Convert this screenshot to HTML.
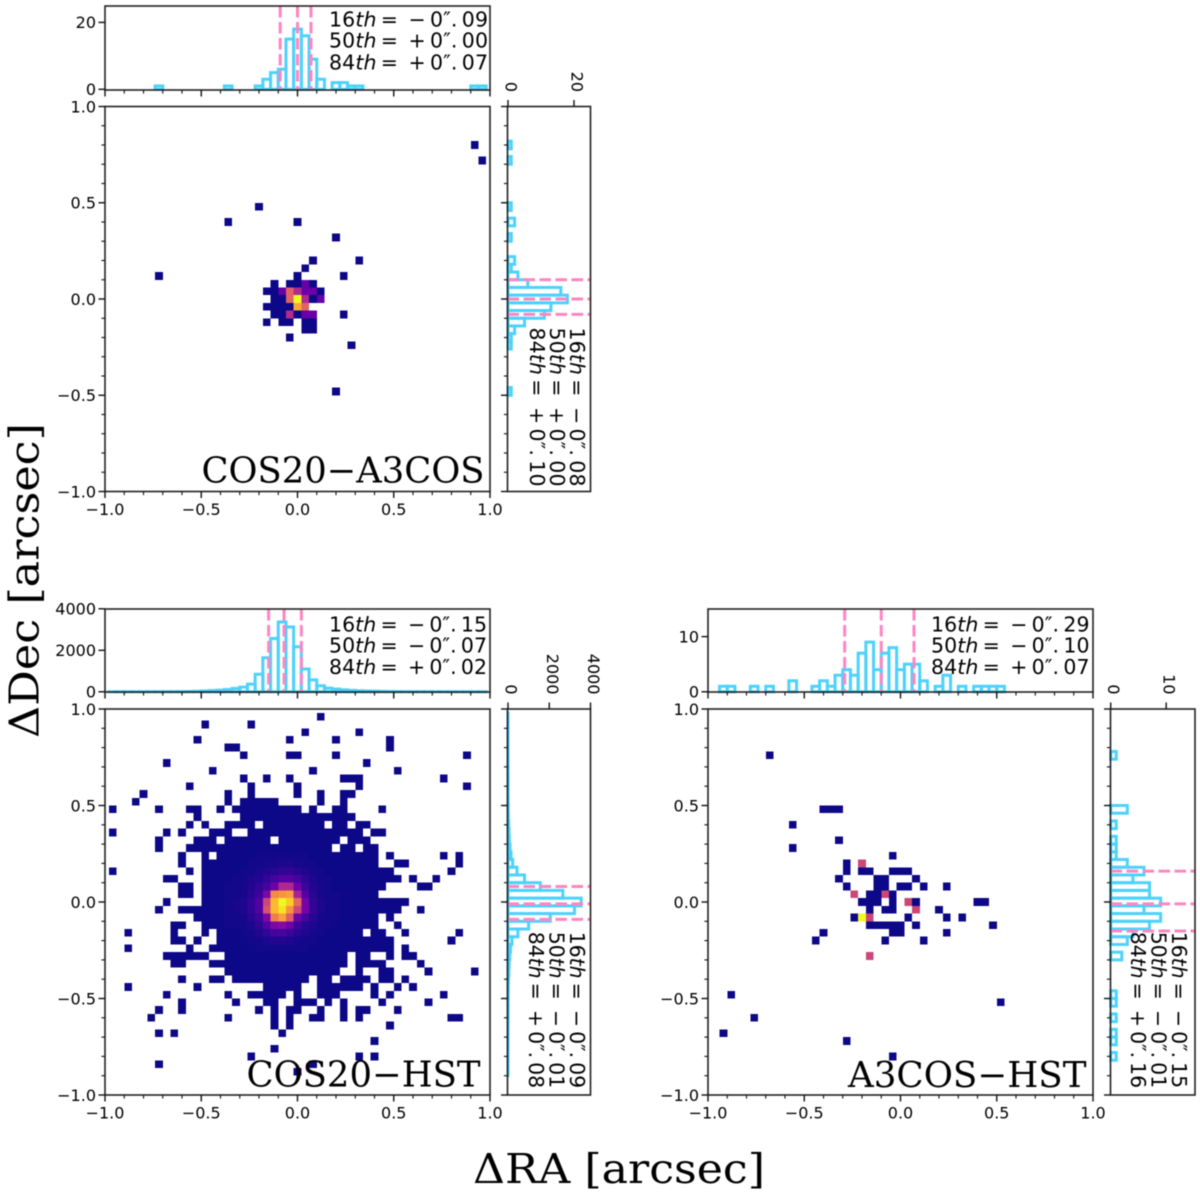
<!DOCTYPE html>
<html lang="en">
<head>
<meta charset="utf-8">
<title>Astrometric offsets between COS20, A3COS and HST</title>
<style>
html,body{margin:0;padding:0;background:#fff;}
#figure{display:block;width:1200px;height:1195px;filter:blur(0.55px);}
text{fill:#000;}
.tick-label{font-family:"DejaVu Sans",sans-serif;font-size:16px;}
.pct{font-family:"DejaVu Sans",sans-serif;font-size:20.5px;}
.serif{font-family:"DejaVu Serif","Liberation Serif",serif;}
</style>
</head>
<body>
<svg id="figure" viewBox="0 0 1200 1195" width="1200" height="1195">
  <g id="panel-a"></g>
  <g id="panel-b"></g>
  <g id="panel-c"></g>
  <text class="serif" transform="translate(38.5,738) rotate(-90)" font-size="41" textLength="315" lengthAdjust="spacingAndGlyphs">ΔDec [arcsec]</text>
  <text class="serif" x="473" y="1183" font-size="41" textLength="292" lengthAdjust="spacingAndGlyphs">ΔRA [arcsec]</text>
</svg>
<script>
/* ---------- shared axis values ---------- */
const offsetMajorTicks = [-1, -0.5, 0, 0.5, 1];
const offsetMajorLabels = ['−1.0', '−0.5', '0.0', '0.5', '1.0'];
const offsetMinorTicks = [-0.9,-0.8,-0.7,-0.6,-0.4,-0.3,-0.2,-0.1,0.1,0.2,0.3,0.4,0.6,0.7,0.8,0.9];
const percentileNames = ['16', '50', '84'];

/* ---------- COS20-A3COS data (bin index: RA = -1 + 0.04*i, Dec = 1 - 0.04*j) ---------- */
const cosA3RaBins  = [48,49,20,16,25,30,27,33,26,7,25,31,22,24,25,26,27,21,22,23,24,25,26,27,28,22,23,24,25,26,27,28,21,22,23,24,25,26,22,23,24,25,26,27,31,21,23,24,26,27,26,27,24,32,30];
const cosA3DecBins = [5,7,13,15,15,17,20,20,21,22,22,22,23,23,23,23,23,24,24,24,24,24,24,24,24,25,25,25,25,25,25,25,26,26,26,26,26,26,27,27,27,27,27,27,27,28,28,28,28,28,29,29,30,31,37];
const cosA3Counts  = [1,1,1,1,1,1,1,1,1,1,1,1,1,1,1,2,1,1,1,2,4,3,2,2,1,1,1,4,6,3,1,2,1,1,1,1,5,4,1,1,3,1,2,2,1,1,1,1,1,1,1,1,1,1,1];
const cosA3RaHist  = [0,0,0,0,0,0,0,1,0,0,0,0,0,0,0,0,1,0,0,0,1,3,5,6,15,18,16,9,3,0,2,2,1,1,0,0,0,0,0,0,0,0,0,0,0,0,0,0,1,1,0];
const cosA3DecHist = [0,0,0,0,0,1,0,1,0,0,0,0,0,1,0,2,0,1,0,0,2,1,3,6,16,18,13,11,5,2,1,1,0,0,0,0,0,1,0,0,0,0,0,0,0,0,0,0,0,0,0];
const cosA3RaPercentiles  = [-0.09, 0.00, 0.07];
const cosA3DecPercentiles = [-0.08, 0.00, 0.10];
const cosA3RaHistTicks = [0, 20];
const cosA3DecHistTicks = [0, 20];

/* ---------- COS20-HST data ---------- */
const cosHstRowSpans = [
 [],[28,28],[13,13,19,19],[26,26,33,33],[12,12,24,24,30,30,37,37],[16,17,37,37],
 [18,18,24,25,30,30,47,47],[8,8,34,34],[14,14,27,27,38,38],[18,18,21,21,24,24,31,33,44,44],
 [11,11,19,19,25,25,33,33,47,47],[5,5,16,16,19,19,25,25,28,28,31,32],[4,4,16,16,18,22,28,28,31,31],
 [1,1,7,7,11,12,15,15,17,25,27,27,30,31,36,36],[12,12,18,32],[11,11,13,13,16,19,21,28,30,31,33,34],
 [1,1,8,8,10,10,14,16,19,33,35,36],[7,7,12,14,16,21,23,30,32,34],[7,7,11,29,31,32,34,35],
 [10,10,13,13,15,35,37,37,44,44,46,46],[10,10,13,35,38,39,46,46],[1,1,11,11,13,37,45,45],
 [8,9,13,38,40,40,43,43],[10,11,13,36,41,42],[10,11,13,35],[8,8,13,39],[7,7,10,38,41,41],
 [12,35,37,37],[9,10,13,35,38,38],[3,3,9,9,13,13,15,33,35,36,39,39,46,46],[9,10,12,12,15,37,45,45],
 [3,3,11,11,14,37,39,39],[8,13,16,31,33,34,37,37,39,40],[9,10,14,31,33,36,41,41],
 [16,30,33,33,36,37,42,42,48,48],[10,10,14,15,17,26,28,29,31,34,36,37,39,39],
 [3,3,12,12,21,25,28,33,35,35,38,38,40,40],[8,8,16,16,19,23,25,25,28,30,35,35,37,37,44,44],
 [10,10,17,17,21,22,25,27,29,29,31,31,36,36,42,42],
 [7,7,10,10,20,20,22,22,24,25,28,28,31,31,33,34,38,38],[6,6,16,16,22,22,24,24,27,28,31,31,33,33,45,46],
 [22,22,24,24,37,37],[7,7,9,9,23,23],[35,35],[22,22],[19,19,33,33,35,35],[7,7,27,27],[25,25],[],[],[]
];
const cosHstCoreFirstRow = 19;
const cosHstCoreFirstCol = 16;
const cosHstCoreCounts = [
 [1,1,1,1,2,2,2,2,2,2,2,1,1,1,1],
 [1,1,1,2,2,3,3,4,4,3,2,2,1,1,1],
 [1,1,2,2,4,5,6,8,8,6,4,3,2,1,1],
 [1,2,2,4,5,8,12,16,16,12,7,4,2,2,1],
 [2,2,3,5,8,12,22,40,40,22,10,5,3,2,1],
 [2,2,3,6,10,26,72,75,78,38,16,6,3,2,2],
 [2,3,4,8,15,50,85,100,90,62,24,8,4,2,2],
 [2,3,4,8,15,55,85,95,75,50,24,8,4,2,2],
 [2,2,3,6,10,26,68,78,58,22,12,6,3,2,2],
 [2,2,2,4,7,16,26,28,22,10,6,4,2,2,1],
 [1,1,2,3,5,8,12,13,10,6,4,3,2,1,1],
 [1,1,1,2,2,4,5,5,4,3,2,2,1,1,1],
 [1,1,1,1,2,2,2,2,2,2,2,1,1,1,1]
];
const cosHstRaHist  = [0,1,1,1,2,3,4,5,6,8,10,15,25,40,60,80,110,160,225,370,845,1640,2568,3365,3126,2170,1100,575,290,175,130,95,70,50,40,30,20,12,8,6,5,4,3,2,2,1,1,1,1,1,0];
const cosHstDecHist = [0,1,1,1,2,2,3,3,4,5,5,6,8,12,20,35,50,65,95,145,225,435,800,1565,2660,3548,3225,2050,1000,480,190,120,85,55,40,25,15,10,8,6,5,3,2,1,1,1,1,1,0,0,0];
const cosHstRaPercentiles  = [-0.15, -0.07, 0.02];
const cosHstDecPercentiles = [-0.09, -0.01, 0.08];
const cosHstRaHistTicks = [0, 2000, 4000];
const cosHstDecHistTicks = [0, 2000, 4000];

/* ---------- A3COS-HST data ---------- */
const a3HstRaBins  = [8,15,16,17,11,17,11,24,18,20,18,20,21,24,25,26,17,22,23,27,18,22,23,25,26,28,31,19,21,22,23,24,20,21,22,24,26,27,35,36,21,23,24,27,30,19,20,21,26,31,33,21,22,23,24,25,27,37,15,24,25,31,14,23,28,21,3,38,6,2,18,24];
const a3HstDecBins = [6,13,13,13,15,17,18,19,20,20,21,21,21,21,21,21,22,22,22,22,23,23,23,23,23,23,23,24,24,24,24,24,25,25,25,25,25,25,25,25,26,26,26,26,26,27,27,27,27,27,27,28,28,28,28,28,28,28,29,29,29,29,30,30,30,32,37,38,40,42,43,45];
const a3HstCounts  = [1,1,1,1,1,1,1,1,1,2,1,1,1,1,1,1,1,1,1,1,1,1,1,1,1,1,1,2,1,1,2,1,1,1,1,1,2,1,1,1,1,1,1,2,1,1,3,2,1,1,1,1,1,1,1,1,1,1,1,1,1,1,1,1,1,2,1,1,1,1,1,1];
const a3HstRaHist  = [0,0,1,1,0,0,1,0,1,0,0,2,0,0,1,2,1,3,4,3,7,9,4,7,8,4,5,5,2,0,1,3,0,1,0,1,1,1,1,0,0,0,0,0,0,0,0,0,0,0,0];
const a3HstDecHist = [0,0,0,0,0,0,1,0,0,0,0,0,0,3,0,1,0,1,1,1,3,6,4,7,7,9,6,9,7,4,3,0,2,0,0,0,0,1,1,0,1,0,1,1,0,1,0,0,0,0,0];
const a3HstRaPercentiles  = [-0.29, -0.10, 0.07];
const a3HstDecPercentiles = [-0.15, -0.01, 0.16];
const a3HstRaHistTicks = [0, 10];
const a3HstDecHistTicks = [0, 10];

/* ---------- plasma colormap ---------- */
const plasmaStops = ['#0d0887','#41049d','#6a00a8','#8f0da4','#b12a90','#cc4778','#e16462','#f2844b','#fca636','#fcce25','#f0f921'];
function plasma(t){
  const p = Math.max(0, Math.min(1, t)) * (plasmaStops.length - 1);
  const k = Math.min(Math.floor(p), plasmaStops.length - 2), f = p - k;
  const a = plasmaStops[k], b = plasmaStops[k + 1];
  const ch = s => [1, 3, 5].map(n => parseInt(s.substr(n, 2), 16));
  const ca = ch(a), cb = ch(b);
  return 'rgb(' + ca.map((v, n) => Math.round(v + (cb[n] - v) * f)).join(',') + ')';
}

/* ---------- scales and helpers ---------- */
const NS = 'http://www.w3.org/2000/svg';
function make(tag, attrs, parent){
  const node = document.createElementNS(NS, tag);
  for (const key in attrs) node.setAttribute(key, attrs[key]);
  parent.appendChild(node);
  return node;
}
function linear(d0, d1, r0, r1){ return v => r0 + (v - d0) * (r1 - r0) / (d1 - d0); }
const BIN_WIDTH = 0.04;
const raOfBin = i => -1 + BIN_WIDTH * i;
const decOfBin = j => 1 - BIN_WIDTH * j;
const SPINE = '#222';
const HIST = '#4dd2fb';
const DASH = '#ff85c2';

function drawFrame(root, x0, y0, x1, y1, name){
  const frame = make('rect', {x:x0, y:y0, width:x1-x0, height:y1-y0, fill:'none', stroke:SPINE, 'stroke-width':1.6}, root);
  
  
}
function tickLine(root, x1, y1, x2, y2, w){
  const t = make('line', {x1, y1, x2, y2, stroke:'#111', 'stroke-width':w}, root);
  
  
}
function tickText(root, x, y, anchor, label, rotate){
  const attrs = {class:'tick-label', 'text-anchor':anchor};
  if (rotate) attrs.transform = 'translate(' + x + ',' + y + ') rotate(90)';
  else { attrs.x = x; attrs.y = y; }
  const t = make('text', attrs, root);
  t.textContent = label;
  
  
}
function formatOffset(v){
  const abs = Math.abs(v).toFixed(2).slice(2);
  return (v < 0 ? '−' : '+') + '\u20090″.\u2009' + abs;
}
function percentileLabel(root, name, value, x, y, length, rotated){
  const attrs = {class:'pct', textLength:length, lengthAdjust:'spacing'};
  if (rotated) attrs.transform = 'translate(' + x + ',' + y + ') rotate(90)';
  else { attrs.x = x; attrs.y = y; }
  const t = make('text', attrs, root);
  
  
  const a = make('tspan', {}, t); a.textContent = name;
  const b = make('tspan', {'font-style':'italic'}, t); b.textContent = 'th';
  const c = make('tspan', {}, t); c.textContent = '\u2009=\u2002' + formatOffset(value);
}

/* draw a full corner-plot panel */
function drawPanel(cfg){
  const root = document.getElementById(cfg.id);
  const m = cfg.main;
  const xScale = linear(-1, 1, m.x0, m.x1);
  const yScale = linear(1, -1, m.y0, m.y1);
  const topScale = linear(0, cfg.top.max, cfg.top.zero, cfg.top.y0);
  const rightScale = linear(0, cfg.right.max, cfg.right.zero, cfg.right.x1);

  /* heat map */
  const cellW = xScale(BIN_WIDTH) - xScale(0), cellH = yScale(0) - yScale(BIN_WIDTH);
  const maxCount = Math.max(...cfg.cells.map(c => c[2]));
  const heat = make('g', {'shape-rendering':'crispEdges'}, root);
  
  
  cfg.cells.forEach(c => {
    const left = Math.max(m.x0, xScale(raOfBin(c[0])) - cellW / 2);
    const top = Math.max(m.y0, yScale(decOfBin(c[1])) - cellH / 2);
    const cell = make('rect', {x:left.toFixed(2), y:top.toFixed(2), width:cellW.toFixed(2), height:cellH.toFixed(2), fill:plasma((c[2] - 1) / (maxCount - 1))}, heat);
    
    
  });

  /* RA histogram (top) */
  const topG = make('g', {}, root);
  
  
  for (let i = 1; i < cfg.raHist.length - 1; i++){
    const h = topScale(cfg.raHist[i]);
    const bar = make('rect', {x:(xScale(raOfBin(i)) - cellW / 2).toFixed(2), y:h.toFixed(2), width:cellW.toFixed(2), height:Math.max(0, topScale(0) - h).toFixed(2), fill:'none', stroke:HIST, 'stroke-width':3}, topG);
    
    
  }
  cfg.raPct.forEach(v => {
    const line = make('line', {x1:xScale(v), x2:xScale(v), y1:cfg.top.y0, y2:cfg.top.y1, stroke:DASH, 'stroke-width':3, 'stroke-dasharray':'11.5 4.5'}, topG);
    
    
  });

  /* Dec histogram (right) */
  const rightG = make('g', {}, root);
  
  
  for (let j = 1; j < cfg.decHist.length - 1; j++){
    const w = rightScale(cfg.decHist[j]);
    const bar = make('rect', {x:rightScale(0).toFixed(2), y:(yScale(decOfBin(j)) - cellH / 2).toFixed(2), width:Math.max(0, w - rightScale(0)).toFixed(2), height:cellH.toFixed(2), fill:'none', stroke:HIST, 'stroke-width':3}, rightG);
    
    
  }
  cfg.decPct.forEach(v => {
    const line = make('line', {x1:cfg.right.x0, x2:cfg.right.x1, y1:yScale(v), y2:yScale(v), stroke:DASH, 'stroke-width':3, 'stroke-dasharray':'11.5 4.5'}, rightG);
    
    
  });

  /* frames */
  drawFrame(root, m.x0, m.y0, m.x1, m.y1, cfg.prefix + '-main-frame');
  drawFrame(root, m.x0, cfg.top.y0, m.x1, cfg.top.y1, cfg.prefix + '-ra-hist-frame');
  drawFrame(root, cfg.right.x0, m.y0, cfg.right.x1, m.y1, cfg.prefix + '-dec-hist-frame');

  /* shared offset ticks */
  offsetMajorTicks.forEach((v, k) => {
    tickLine(root, xScale(v), m.y1, xScale(v), m.y1 + 6.5, 1.4);
    tickLine(root, m.x0, yScale(v), m.x0 - 6.5, yScale(v), 1.4);
    tickLine(root, xScale(v), cfg.top.y1, xScale(v), cfg.top.y1 + 6.5, 1.4);
    tickLine(root, cfg.right.x0, yScale(v), cfg.right.x0 - 6.5, yScale(v), 1.4);
    tickText(root, xScale(v), m.y1 + 23.5, 'middle', offsetMajorLabels[k], false);
    tickText(root, m.x0 - 9, yScale(v) + 5.8, 'end', offsetMajorLabels[k], false);
  });
  offsetMinorTicks.forEach(v => {
    tickLine(root, xScale(v), m.y1, xScale(v), m.y1 + 3.6, 1.1);
    tickLine(root, m.x0, yScale(v), m.x0 - 3.6, yScale(v), 1.1);
    tickLine(root, xScale(v), cfg.top.y1, xScale(v), cfg.top.y1 + 3.6, 1.1);
    tickLine(root, cfg.right.x0, yScale(v), cfg.right.x0 - 3.6, yScale(v), 1.1);
  });

  /* histogram count ticks */
  cfg.raTicks.forEach(v => {
    tickLine(root, m.x0, topScale(v), m.x0 - 6.5, topScale(v), 1.4);
    tickText(root, m.x0 - 9, topScale(v) + 5.8, 'end', String(v), false);
  });
  cfg.decTicks.forEach(v => {
    tickLine(root, rightScale(v), m.y0, rightScale(v), m.y0 - 6.5, 1.4);
    tickText(root, rightScale(v) - 2.5, m.y0 - 14.5, 'end', String(v), true);
  });

  /* percentile annotations */
  cfg.raPct.forEach((v, k) => {
    percentileLabel(root, percentileNames[k], v, cfg.raLabel.x, cfg.raLabel.y[k], cfg.raLabel.len, false);
  });
  cfg.decPct.forEach((v, k) => {
    percentileLabel(root, percentileNames[k], v, cfg.decLabel.x[k], cfg.decLabel.y, cfg.decLabel.len, true);
  });

  /* panel title */
  const title = make('text', {class:'serif', x:cfg.title.x, y:cfg.title.y, 'font-size':35.5, textLength:cfg.title.len, lengthAdjust:'spacingAndGlyphs'}, root);
  title.textContent = cfg.title.text;
  
  
}

/* ---------- assemble cell lists from the data arrays ---------- */
function sparseCells(ras, decs, counts){ return ras.map((r, k) => [r, decs[k], counts[k]]); }
function hstCells(){
  const out = [];
  cosHstRowSpans.forEach((spans, j) => {
    for (let s = 0; s < spans.length; s += 2){
      for (let i = spans[s]; i <= spans[s + 1]; i++){
        const row = cosHstCoreCounts[j - cosHstCoreFirstRow];
        const core = row ? row[i - cosHstCoreFirstCol] : undefined;
        out.push([i, j, core === undefined ? 1 : core]);
      }
    }
  });
  return out;
}

drawPanel({
  id:'panel-a', prefix:'cos20-a3cos',
  main:{x0:105, x1:490, y0:106.5, y1:491.5},
  top:{y0:6, y1:90, zero:89.3, max:24.9},
  right:{x0:507.5, x1:590.5, zero:508, max:25},
  cells:sparseCells(cosA3RaBins, cosA3DecBins, cosA3Counts),
  raHist:cosA3RaHist, decHist:cosA3DecHist,
  raPct:cosA3RaPercentiles, decPct:cosA3DecPercentiles,
  raTicks:cosA3RaHistTicks, decTicks:cosA3DecHistTicks,
  raLabel:{x:329, y:[26.7, 47.7, 69.3], len:159},
  decLabel:{x:[570, 550, 530], y:327.5, len:159},
  title:{text:'COS20−A3COS', x:201.5, y:482.5, len:283}
});
drawPanel({
  id:'panel-b', prefix:'cos20-hst',
  main:{x0:105, x1:490, y0:709, y1:1095},
  top:{y0:609, y1:692, zero:691.8, max:3990},
  right:{x0:507.5, x1:590.5, zero:508, max:4000},
  cells:hstCells(),
  raHist:cosHstRaHist, decHist:cosHstDecHist,
  raPct:cosHstRaPercentiles, decPct:cosHstDecPercentiles,
  raTicks:cosHstRaHistTicks, decTicks:cosHstDecHistTicks,
  raLabel:{x:329, y:[631.7, 652.7, 674], len:158},
  decLabel:{x:[570, 549.5, 529], y:931.7, len:156.5},
  title:{text:'COS20−HST', x:246.5, y:1086.7, len:234}
});
drawPanel({
  id:'panel-c', prefix:'a3cos-hst',
  main:{x0:708, x1:1093, y0:709, y1:1095},
  top:{y0:609, y1:692, zero:691.8, max:15},
  right:{x0:1110.5, x1:1195, zero:1110.7, max:15.2},
  cells:sparseCells(a3HstRaBins, a3HstDecBins, a3HstCounts),
  raHist:a3HstRaHist, decHist:a3HstDecHist,
  raPct:a3HstRaPercentiles, decPct:a3HstDecPercentiles,
  raTicks:a3HstRaHistTicks, decTicks:a3HstDecHistTicks,
  raLabel:{x:931, y:[631.7, 652.7, 674], len:158.5},
  decLabel:{x:[1172, 1151.7, 1131], y:931.7, len:156.5},
  title:{text:'A3COS−HST', x:848, y:1087, len:238.5}
});
</script>
</body>
</html>
